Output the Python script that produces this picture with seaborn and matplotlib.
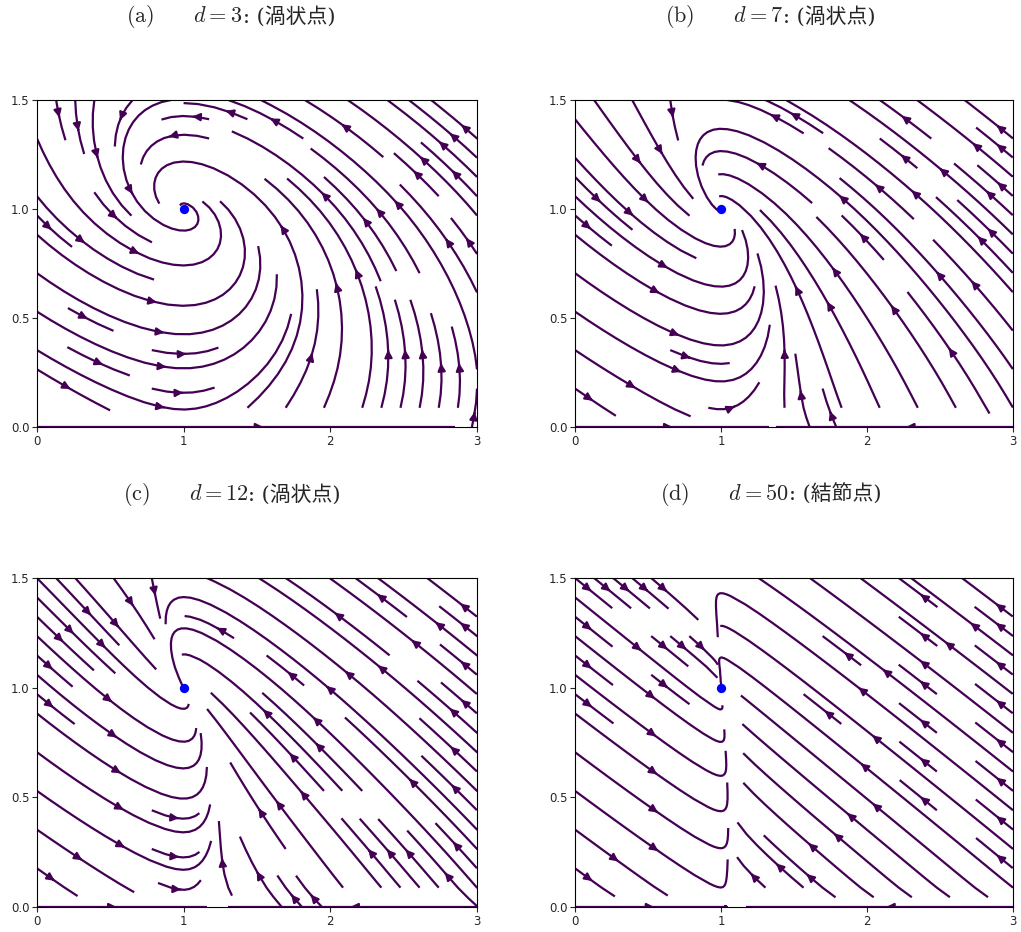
import numpy as np
import matplotlib
matplotlib.use("Agg")
import matplotlib.pyplot as plt
import seaborn as sns

# panel parameters
d_values = [3, 7, 12, 50]
panel_tags = ["a", "b", "c", "d"]
point_kinds = ["渦状点", "渦状点", "渦状点", "結節点"]
fixed_x = [1.0]
fixed_y = [1.0]

# model coefficients
K_FAST = 1.0
G_ROT = 1.5
B_ROT = 13.0
N_POW = 1.5
R_LOW = 7.0
LOW_SCALE = 0.3
P_AX = 0.05
C_AX = 1.61
A_AX = 2.13
AX_DEPTH = 0.05

x_range = (0.0, 3.0)
y_range = (0.0, 1.5)
x_ticks = [0, 1, 2, 3]
y_ticks = [0.0, 0.5, 1.0, 1.5]


def field(X, Y, d):
    U = X - 1.0
    h = B_ROT * np.minimum(Y, 1.0)**N_POW * (1.0 - Y)
    low = R_LOW * np.clip(U, 0, None) * Y * np.exp(-Y / LOW_SCALE)
    axis = P_AX * np.exp(-Y / AX_DEPTH) * (C_AX - (d - A_AX) * U)
    dx = h - 2.0 * K_FAST * d * U * Y + low + axis
    dy = (K_FAST * d + G_ROT) * U * Y
    return dx, dy


sns.set_style("ticks")
plt.rcParams["mathtext.fontset"] = "cm"
plt.rcParams["font.family"] = ["DejaVu Sans"]

fig = plt.figure(figsize=(10.21, 9.32), dpi=100)
axes_rects = [
    [0.0362, 0.5418, 0.4310, 0.3509],
    [0.5632, 0.5418, 0.4290, 0.3509],
    [0.0362, 0.0268, 0.4310, 0.3530],
    [0.5632, 0.0268, 0.4290, 0.3530],
]
title_pos = [(0.226, 0.984), (0.754, 0.984), (0.227, 0.471), (0.755, 0.471)]

xs = np.linspace(x_range[0], x_range[1], 240)
ys = np.linspace(y_range[0], y_range[1], 240)
X, Y = np.meshgrid(xs, ys)

renderer = fig.canvas.get_renderer()


def caption(cx, cy, tag, d, kind):
    parts = [
        (r"$\mathrm{(" + tag + r")}\qquad d = " + str(d) + r"$", None),
        (": (" + kind + ")", ["DejaVu Serif", "Noto Sans CJK JP"]),
    ]
    texts = []
    for s, fam in parts:
        kw = dict(fontsize=16, va="baseline", ha="left")
        if fam is not None:
            kw["family"] = fam
            kw["fontsize"] = 15
        texts.append(fig.text(0, cy, s, **kw))
    widths = [t.get_window_extent(renderer).width for t in texts]
    total = sum(widths) / fig.bbox.width
    x = cx - total / 2
    for t, w in zip(texts, widths):
        t.set_x(x)
        x += w / fig.bbox.width


for rect, d, tag, kind, tpos in zip(axes_rects, d_values, panel_tags, point_kinds, title_pos):
    ax = fig.add_axes(rect)
    U, V = field(X, Y, d)
    ax.streamplot(X, Y, U, V, density=(0.8, 0.6), color="#440154", linewidth=1.6,
                  arrowsize=1.1, zorder=2)
    sns.scatterplot(x=fixed_x, y=fixed_y, color="blue", s=45, edgecolor="blue",
                    linewidth=0, ax=ax, zorder=3)
    ax.set_xlim(*x_range)
    ax.set_ylim(*y_range)
    ax.set_xticks(x_ticks)
    ax.set_yticks(y_ticks)
    ax.set_yticklabels([f"{t:.1f}" for t in y_ticks])
    ax.tick_params(labelsize=8.5, length=3.5, width=0.8, pad=2)
    for s in ax.spines.values():
        s.set_linewidth(0.8)
        s.set_color("black")
    caption(tpos[0], tpos[1] - 0.008, tag, d, kind)

fig.savefig("out.png", dpi=100)
